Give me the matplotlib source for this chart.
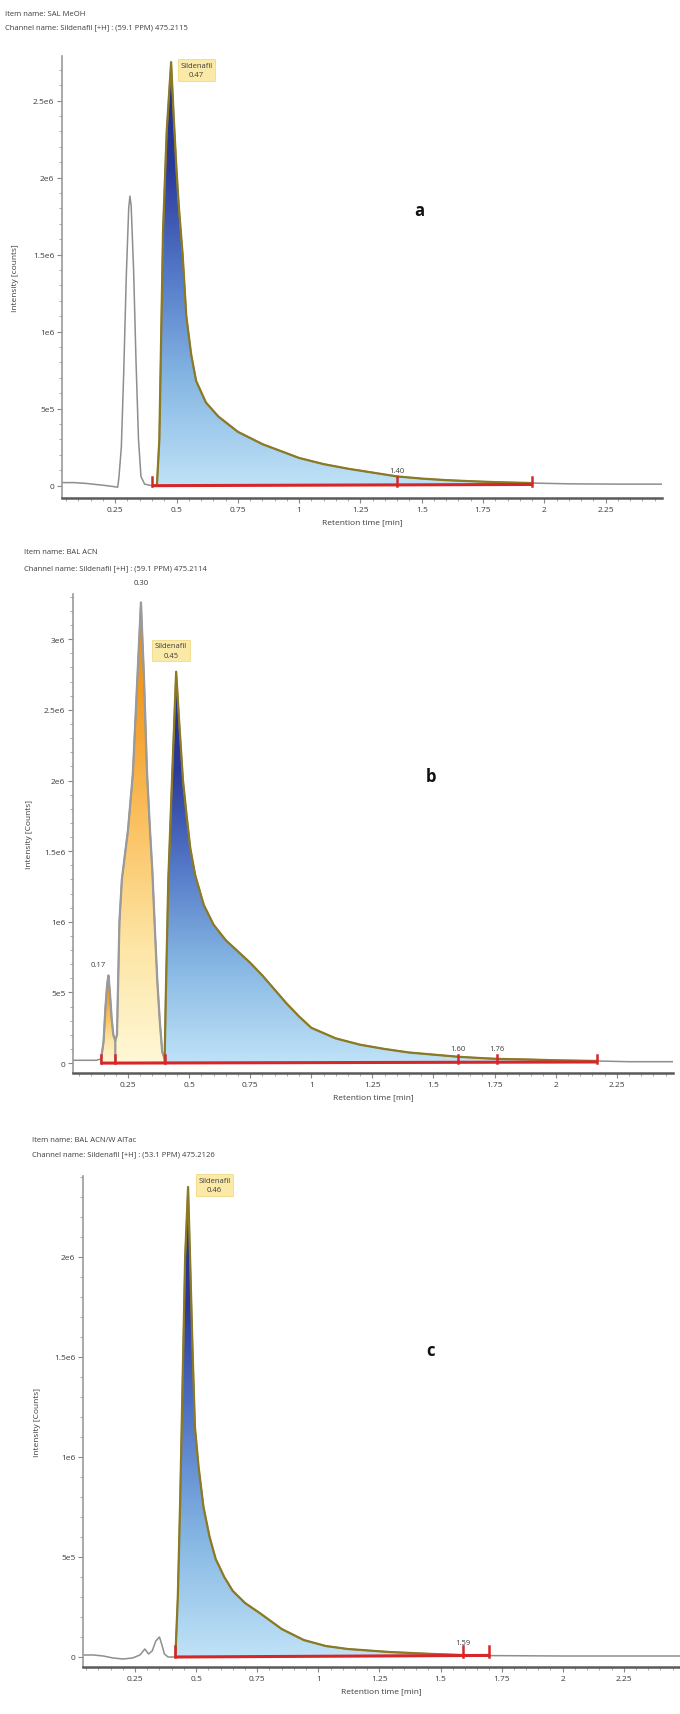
import numpy as np
import matplotlib
matplotlib.use("Agg")
import matplotlib.pyplot as plt
from matplotlib.patches import Polygon
from matplotlib.colors import LinearSegmentedColormap
from matplotlib.ticker import MultipleLocator, FixedLocator

plt.rcParams['font.family'] = ['Open Sans', 'DejaVu Sans']

# ---------------- data (time in min, intensity in 1e6 counts) ----------------
x_ticks = [0.25, 0.5, 0.75, 1, 1.25, 1.5, 1.75, 2, 2.25]
x_tick_labels = ['0.25', '0.5', '0.75', '1', '1.25', '1.5', '1.75', '2', '2.25']

# panel a : SAL MeOH
a_t = [0.03, 0.08, 0.13, 0.17, 0.20, 0.24, 0.26, 0.265, 0.275, 0.285, 0.295, 0.305, 0.31,
       0.315, 0.325, 0.335, 0.345, 0.355, 0.37, 0.40, 0.42, 0.43, 0.445, 0.46, 0.478,
       0.49, 0.50, 0.51, 0.525, 0.54, 0.56, 0.58, 0.62, 0.67, 0.75, 0.85, 1.0, 1.1, 1.2,
       1.3, 1.4, 1.5, 1.6, 1.7, 1.8, 1.95, 2.1, 2.3, 2.48]
a_i = [0.02, 0.02, 0.015, 0.008, 0.003, -0.005, -0.01, 0.05, 0.25, 0.75, 1.35, 1.8, 1.88,
       1.82, 1.4, 0.8, 0.3, 0.06, 0.01, 0.0, 0.0, 0.3, 1.65, 2.3, 2.75,
       2.35, 2.05, 1.8, 1.5, 1.1, 0.85, 0.68, 0.54, 0.45, 0.35, 0.27, 0.18, 0.14, 0.11,
       0.085, 0.06, 0.046, 0.036, 0.029, 0.023, 0.017, 0.012, 0.01, 0.01]
a_peaks = [("blue", 0.42, 1.95)]
a_base = (0.40, 1.95)
a_marks = [0.40, 1.40, 1.95]
a_yticks = [0, 0.5, 1, 1.5, 2, 2.5]
a_ytick_labels = ['0', '5e5', '1e6', '1.5e6', '2e6', '2.5e6']

# panel b : BAL ACN
b_t = [0.025, 0.08, 0.12, 0.14, 0.15, 0.158, 0.165, 0.17, 0.176, 0.183, 0.19, 0.198, 0.205,
       0.21, 0.215, 0.225, 0.25, 0.27, 0.285, 0.303, 0.315, 0.328, 0.34, 0.35, 0.36, 0.37,
       0.38, 0.39, 0.40, 0.405, 0.415, 0.43, 0.447, 0.46, 0.475, 0.49, 0.505, 0.525, 0.56,
       0.60, 0.65, 0.70, 0.75, 0.80, 0.85, 0.90, 0.95, 1.0, 1.1, 1.2, 1.3, 1.4, 1.5, 1.6,
       1.7, 1.76, 1.9, 2.0, 2.17, 2.3, 2.48]
b_i = [0.02, 0.02, 0.02, 0.03, 0.15, 0.4, 0.56, 0.62, 0.5, 0.32, 0.2, 0.16, 0.2,
       0.6, 1.0, 1.3, 1.65, 2.05, 2.6, 3.26, 2.75, 2.05, 1.65, 1.35, 0.95, 0.58,
       0.3, 0.08, 0.03, 0.5, 1.3, 2.0, 2.77, 2.4, 2.0, 1.75, 1.52, 1.33, 1.12,
       0.98, 0.87, 0.79, 0.71, 0.62, 0.52, 0.42, 0.33, 0.25, 0.175, 0.13, 0.10, 0.075, 0.06, 0.045,
       0.035, 0.03, 0.025, 0.02, 0.015, 0.01, 0.01]
b_peaks = [("orange", 0.14, 0.198), ("orange", 0.198, 0.40), ("blue", 0.40, 2.17)]
b_base = (0.14, 2.17)
b_marks = [0.14, 0.198, 0.40, 1.60, 1.76, 2.17]
b_yticks = [0, 0.5, 1, 1.5, 2, 2.5, 3]
b_ytick_labels = ['0', '5e5', '1e6', '1.5e6', '2e6', '2.5e6', '3e6']

# panel c : BAL ACN/W
c_t = [0.037, 0.08, 0.12, 0.16, 0.20, 0.24, 0.27, 0.29, 0.305, 0.32, 0.335, 0.35, 0.36,
       0.37, 0.385, 0.415, 0.425, 0.435, 0.445, 0.455, 0.467, 0.475, 0.485, 0.495, 0.51,
       0.53, 0.555, 0.58, 0.615, 0.65, 0.70, 0.76, 0.85, 0.94, 1.03, 1.12, 1.29, 1.47,
       1.59, 1.70, 2.0, 2.48]
c_i = [0.01, 0.01, 0.005, -0.005, -0.01, -0.005, 0.01, 0.04, 0.015, 0.03, 0.08, 0.1, 0.06,
       0.015, 0.0, 0.0, 0.3, 0.8, 1.4, 2.0, 2.35, 2.0, 1.55, 1.15, 0.95,
       0.75, 0.6, 0.49, 0.4, 0.33, 0.27, 0.22, 0.14, 0.085, 0.055, 0.04, 0.025, 0.015,
       0.01, 0.007, 0.005, 0.005]
c_peaks = [("blue", 0.415, 1.70)]
c_base = (0.415, 1.70)
c_marks = [0.415, 1.59, 1.70]
c_yticks = [0, 0.5, 1, 1.5, 2]
c_ytick_labels = ['0', '5e5', '1e6', '1.5e6', '2e6']

SCALE = 1e6

# ---------------- style ----------------
blue_cmap = LinearSegmentedColormap.from_list(
    "blue", ['#bfe2f7', '#86b7e3', '#5479c8', '#2b3a9c', '#1f2a86'])
orange_cmap = LinearSegmentedColormap.from_list(
    "orange", ['#fff7d6', '#fde6a6', '#fbc466', '#f5a02a', '#e88a10'])
EDGE = {"blue": '#8c7a22', "orange": '#9a9a9a'}
CMAP = {"blue": blue_cmap, "orange": orange_cmap}
RED = '#d6262a'
TXT = '#3c3c3c'

W, H = 680, 1715
fig = plt.figure(figsize=(W / 100, H / 100), dpi=100)


def px_axes(left, right, top, bottom):
    return fig.add_axes([left / W, 1 - bottom / H, (right - left) / W, (bottom - top) / H])


def draw_panel(ax, t, inten, peaks, base, marks, yticks, ylabels, xlim, ylim, ylabel, ylab_x):
    t = np.asarray(t)
    y = np.asarray(inten) * SCALE
    for kind, t0, t1 in peaks:
        m = (t >= t0) & (t <= t1)
        pt, py = t[m], y[m]
        verts = [(pt[0], 0)] + list(zip(pt, py)) + [(pt[-1], 0)]
        poly = Polygon(verts, closed=True, facecolor='none', edgecolor='none')
        ax.add_patch(poly)
        grad = np.linspace(0, 1, 256).reshape(-1, 1)
        im = ax.imshow(grad, cmap=CMAP[kind], aspect='auto', origin='lower',
                       extent=(pt[0], pt[-1], 0, py.max()), zorder=2, interpolation='bilinear')
        im.set_clip_path(poly)
        ax.plot([pt[0]] + list(pt), [0] + list(py), color=EDGE[kind], lw=1.6, zorder=3,
                solid_joinstyle='round')
    ax.plot(t, y, color='#8e8e8e', lw=1.1, zorder=2.5)
    # red integration baseline
    ax.plot([base[0], base[1]], [0, 0.008 * SCALE], color=RED, lw=2.2, zorder=4,
            solid_capstyle='butt')
    for mt in marks:
        ax.plot([mt, mt], [0, 0.055 * SCALE], color=RED, lw=1.8, zorder=4)

    ax.set_xlim(*xlim)
    ax.set_ylim(ylim[0] * SCALE, ylim[1] * SCALE)
    ax.xaxis.set_major_locator(FixedLocator(x_ticks))
    ax.set_xticklabels(x_tick_labels)
    ax.xaxis.set_minor_locator(MultipleLocator(0.05))
    ax.yaxis.set_major_locator(FixedLocator([v * SCALE for v in yticks]))
    ax.set_yticklabels(ylabels)
    ax.yaxis.set_minor_locator(MultipleLocator(0.1 * SCALE))
    for s in ['top', 'right']:
        ax.spines[s].set_visible(False)
    ax.spines['left'].set_color('#9a9a9a')
    ax.spines['left'].set_linewidth(1.2)
    ax.spines['bottom'].set_color('#5a5a5a')
    ax.spines['bottom'].set_linewidth(1.8)
    ax.tick_params(which='major', length=3.5, width=0.8, color='#888888',
                   labelsize=6, labelcolor=TXT, pad=2)
    ax.tick_params(which='minor', length=2, width=0.6, color='#999999')
    ax.set_xlabel('Retention time [min]', fontsize=6, color=TXT, labelpad=4)
    ax.set_ylabel(ylabel, fontsize=6, color=TXT)
    ax.yaxis.set_label_coords(ylab_x, 0.5)
    ax.set_facecolor('white')


def box(ax, x, y, text):
    ax.text(x, y * SCALE, text, ha='left', va='center', fontsize=5.5, color=TXT,
            linespacing=1.5, zorder=6, multialignment='center',
            bbox=dict(boxstyle='square,pad=0.35', fc='#fbe9a8', ec='#f3d983', lw=0.6))


def small(ax, x, y, text, ha='center'):
    ax.text(x, y * SCALE, text, ha=ha, va='center', fontsize=5.5, color=TXT, zorder=6,
            clip_on=False)


# ---------------- panel a ----------------
ax_a = px_axes(62, 662, 57, 499)
draw_panel(ax_a, a_t, a_i, a_peaks, a_base, a_marks, a_yticks, a_ytick_labels,
           (0.033, 2.48), (-0.08, 2.79), 'Intensity [counts]', -0.072)
box(ax_a, 0.515, 2.70, 'Sildenafil\n0.47')
small(ax_a, 1.40, 0.10, '1.40')
ax_a.text(1.47, 1.76 * SCALE, 'a', fontsize=12, fontweight='bold', color='#111111')
fig.text(5 / W, 1 - 14 / H, 'Item name: SAL MeOH', fontsize=5.5, color=TXT, va='center')
fig.text(5 / W, 1 - 28 / H, 'Channel name: Sildenafil [+H] : (59.1 PPM) 475.2115',
         fontsize=5.5, color=TXT, va='center')

# ---------------- panel b ----------------
ax_b = px_axes(73, 673, 595, 1074)
draw_panel(ax_b, b_t, b_i, b_peaks, b_base, b_marks, b_yticks, b_ytick_labels,
           (0.025, 2.48), (-0.07, 3.32), 'Intensity [Counts]', -0.066)
box(ax_b, 0.36, 2.92, 'Sildenafil\n0.45')
small(ax_b, 0.303, 3.40, '0.30')
small(ax_b, 0.127, 0.70, '0.17')
small(ax_b, 1.60, 0.10, '1.60')
small(ax_b, 1.76, 0.10, '1.76')
ax_b.text(1.47, 2.0 * SCALE, 'b', fontsize=12, fontweight='bold', color='#111111')
fig.text(24 / W, 1 - 552 / H, 'Item name: BAL ACN', fontsize=5.5, color=TXT, va='center')
fig.text(24 / W, 1 - 569 / H, 'Channel name: Sildenafil [+H] : (59.1 PPM) 475.2114',
         fontsize=5.5, color=TXT, va='center')

# ---------------- panel c ----------------
ax_c = px_axes(83, 680, 1177, 1668)
draw_panel(ax_c, c_t, c_i, c_peaks, c_base, c_marks, c_yticks, c_ytick_labels,
           (0.037, 2.48), (-0.05, 2.405), 'Intensity [Counts]', -0.07)
box(ax_c, 0.51, 2.36, 'Sildenafil\n0.46')
small(ax_c, 1.59, 0.07, '1.59')
ax_c.text(1.44, 1.51 * SCALE, 'c', fontsize=12, fontweight='bold', color='#111111')
fig.text(32 / W, 1 - 1140 / H, 'Item name: BAL ACN/W AlTac', fontsize=5.5, color=TXT,
         va='center')
fig.text(32 / W, 1 - 1155 / H, 'Channel name: Sildenafil [+H] : (53.1 PPM) 475.2126',
         fontsize=5.5, color=TXT, va='center')

fig.savefig('out.png', dpi=100, facecolor='white')
